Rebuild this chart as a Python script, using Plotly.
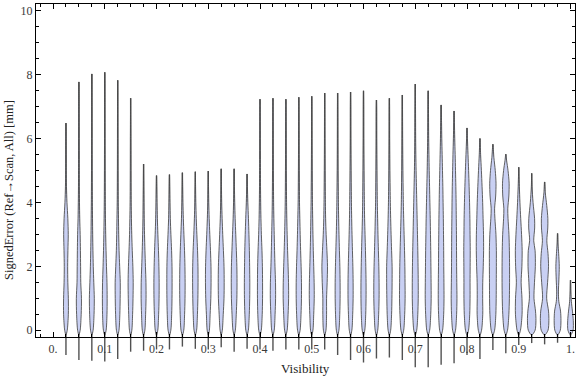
import plotly.graph_objects as go

# ---------------- data ----------------
visibility = [round(0.025 * k, 3) for k in range(1, 41)]

err_min = [-0.77, -0.93, -0.95, -0.98, -0.90, -0.67, -0.64, -0.60, -0.60, -0.51,
           -0.58, -0.60, -0.53, -0.67, -0.58, -0.60, -0.64, -0.60, -0.60, -0.60,
           -0.60, -0.77, -0.93, -1.01, -0.88, -0.85, -0.93, -1.16, -1.16, -1.08,
           -1.03, -0.77, -0.90, -0.62, -0.72, -0.46, -0.40, -0.44, -0.39, -0.20]

err_max = [6.48, 7.77, 8.02, 8.07, 7.82, 7.26, 5.20, 4.84, 4.87, 4.93,
           4.96, 4.98, 5.05, 5.05, 4.89, 7.23, 7.26, 7.23, 7.29, 7.32,
           7.42, 7.42, 7.45, 7.49, 7.20, 7.26, 7.36, 7.70, 7.49, 7.05,
           6.86, 6.33, 6.00, 5.82, 5.51, 5.10, 4.91, 4.64, 3.03, 1.57]

# density profiles: (error value, relative density) pairs per violin
density = [
    [(0, 1.5), (0.5, 2.8), (1, 2.8), (1.5, 2.2), (2, 2.0), (2.5, 2.3), (3, 2.7), (3.5, 2.2), (4, 1.2), (4.5, 0.6), (5, 0.3), (6, 0.15)],
    [(0, 1.5), (0.5, 2.7), (1, 3.0), (1.5, 2.2), (2, 2.0), (2.5, 1.8), (3, 1.5), (3.5, 1.0), (4, 0.7), (4.5, 0.5), (5, 0.4), (6, 0.3), (7, 0.2)],
    [(0, 1.5), (0.5, 2.6), (1, 2.9), (1.5, 2.3), (2, 1.7), (2.5, 1.3), (3, 1.0), (3.5, 0.8), (4, 0.6), (5, 0.4), (6, 0.3), (7, 0.2)],
    [(0, 1.6), (0.5, 2.6), (1, 2.8), (1.5, 2.6), (2, 2.0), (2.5, 1.5), (3, 1.1), (3.5, 0.8), (4, 0.6), (5, 0.4), (6, 0.3), (7, 0.2)],
    [(0, 1.5), (0.5, 2.5), (1, 2.9), (1.5, 3.0), (2, 2.3), (2.5, 1.6), (3, 1.2), (3.5, 0.9), (4, 0.6), (5, 0.4), (6, 0.3), (7, 0.2)],
    [(0, 1.4), (0.5, 2.3), (1, 2.8), (1.5, 3.0), (2, 2.6), (2.5, 1.9), (3, 1.3), (3.5, 0.9), (4, 0.6), (5, 0.4), (6, 0.3)],
    [(0, 1.5), (0.5, 2.4), (1, 2.9), (1.5, 2.8), (2, 2.2), (2.5, 1.6), (3, 1.1), (3.5, 0.7), (4, 0.5), (4.5, 0.3)],
    [(0, 1.5), (0.5, 2.5), (1, 3.0), (1.5, 3.1), (2, 2.8), (2.5, 2.3), (3, 1.6), (3.5, 1.0), (4, 0.6), (4.5, 0.3)],
    [(0, 1.6), (0.5, 2.6), (1, 3.0), (1.5, 3.1), (2, 3.0), (2.5, 2.5), (3, 1.7), (3.5, 1.0), (4, 0.6), (4.5, 0.3)],
    [(0, 1.6), (0.5, 2.6), (1, 3.1), (1.5, 3.2), (2, 3.0), (2.5, 2.5), (3, 1.8), (3.5, 1.1), (4, 0.6), (4.5, 0.3)],
    [(0, 1.5), (0.5, 2.5), (1, 3.0), (1.5, 3.2), (2, 3.1), (2.5, 2.6), (3, 1.8), (3.5, 1.1), (4, 0.6), (4.5, 0.3)],
    [(0, 1.3), (0.5, 2.2), (1, 3.0), (1.5, 3.3), (2, 3.2), (2.5, 2.6), (3, 1.8), (3.5, 1.1), (4, 0.6), (4.5, 0.3)],
    [(0, 1.3), (0.5, 2.4), (1, 3.3), (1.5, 3.5), (2, 3.3), (2.5, 2.6), (3, 1.8), (3.5, 1.1), (4, 0.6), (4.5, 0.3)],
    [(0, 1.4), (0.5, 2.5), (1, 3.2), (1.5, 3.4), (2, 3.2), (2.5, 2.6), (3, 1.9), (3.5, 1.2), (4, 0.7), (4.5, 0.3)],
    [(0, 1.5), (0.5, 2.6), (1, 3.1), (1.5, 3.2), (2, 3.0), (2.5, 2.7), (3, 2.2), (3.5, 1.6), (4, 0.9), (4.5, 0.4)],
    [(0, 1.5), (0.5, 2.6), (1, 3.0), (1.5, 3.0), (2, 2.8), (2.5, 2.3), (3, 1.6), (3.5, 1.1), (4, 0.8), (4.5, 0.6), (5, 0.5), (6, 0.3), (7, 0.2)],
    [(0, 1.5), (0.5, 2.5), (1, 3.1), (1.5, 3.0), (2, 2.4), (2.5, 1.9), (3, 1.5), (3.5, 1.1), (4, 0.8), (5, 0.5), (6, 0.3), (7, 0.2)],
    [(0, 1.5), (0.5, 2.6), (1, 3.2), (1.5, 3.1), (2, 2.6), (2.5, 2.0), (3, 1.5), (3.5, 1.1), (4, 0.8), (5, 0.5), (6, 0.3), (7, 0.2)],
    [(0, 1.5), (0.5, 2.6), (1, 3.1), (1.5, 3.1), (2, 2.7), (2.5, 2.1), (3, 1.6), (3.5, 1.2), (4, 0.8), (5, 0.5), (6, 0.3), (7, 0.2)],
    [(0, 1.4), (0.5, 2.3), (1, 2.9), (1.5, 2.8), (2, 2.3), (2.5, 1.8), (3, 1.4), (3.5, 1.1), (4, 0.8), (5, 0.5), (6, 0.3), (7, 0.2)],
    [(0, 1.5), (0.5, 2.2), (1, 2.2), (1.5, 2.9), (2, 3.3), (2.5, 2.6), (3, 1.7), (3.5, 1.1), (4, 0.8), (5, 0.5), (6, 0.3), (7, 0.2)],
    [(0, 1.5), (0.5, 2.5), (1, 2.9), (1.5, 2.9), (2, 2.6), (2.5, 2.1), (3, 1.6), (3.5, 1.2), (4, 0.9), (5, 0.5), (6, 0.3), (7, 0.2)],
    [(0, 1.5), (0.5, 2.5), (1, 3.0), (1.5, 3.0), (2, 2.7), (2.5, 2.2), (3, 1.7), (3.5, 1.3), (4, 1.0), (5, 0.6), (6, 0.3), (7, 0.2)],
    [(0, 1.5), (0.5, 2.6), (1, 3.0), (1.5, 3.0), (2, 2.7), (2.5, 2.3), (3, 1.8), (3.5, 1.3), (4, 1.0), (5, 0.6), (6, 0.3), (7, 0.2)],
    [(0, 1.5), (0.5, 2.6), (1, 3.1), (1.5, 3.1), (2, 2.8), (2.5, 2.3), (3, 1.8), (3.5, 1.4), (4, 1.0), (5, 0.6), (6, 0.3), (7, 0.2)],
    [(0, 1.5), (0.5, 2.6), (1, 3.0), (1.5, 3.2), (2, 3.2), (2.5, 2.6), (3, 2.0), (3.5, 1.5), (4, 1.1), (5, 0.6), (6, 0.3), (7, 0.2)],
    [(0, 1.6), (0.5, 2.8), (1, 3.3), (1.5, 3.2), (2, 3.0), (2.5, 2.6), (3, 2.1), (3.5, 1.6), (4, 1.2), (5, 0.7), (6, 0.4), (7, 0.2)],
    [(0, 1.7), (0.5, 3.0), (1, 3.5), (1.5, 3.5), (2, 3.3), (2.5, 3.0), (3, 2.6), (3.5, 2.2), (4, 1.8), (4.5, 1.4), (5, 1.0), (5.5, 0.7), (6, 0.5), (7, 0.3)],
    [(0, 1.7), (0.5, 3.0), (1, 3.5), (1.5, 3.4), (2, 3.2), (2.5, 3.0), (3, 2.7), (3.5, 2.4), (4, 2.0), (4.5, 1.6), (5, 1.2), (5.5, 0.9), (6, 0.6), (7, 0.3)],
    [(0, 1.7), (0.5, 3.0), (1, 3.4), (1.5, 3.3), (2, 3.1), (2.5, 3.0), (3, 2.8), (3.5, 2.6), (4, 2.3), (4.5, 2.0), (5, 1.6), (5.5, 1.2), (6, 0.8), (6.5, 0.5)],
    [(0, 1.7), (0.5, 3.0), (1, 3.4), (1.5, 3.2), (2, 3.0), (2.5, 2.9), (3, 2.8), (3.5, 2.6), (4, 2.4), (4.5, 2.1), (5, 1.7), (5.5, 1.3), (6, 0.8), (6.5, 0.4)],
    [(0, 1.8), (0.5, 3.2), (1, 3.6), (1.5, 3.6), (2, 3.7), (2.5, 3.8), (3, 3.6), (3.5, 3.4), (4, 3.0), (4.5, 2.5), (5, 1.9), (5.5, 1.2), (6, 0.5)],
    [(0, 1.9), (0.5, 3.3), (1, 3.2), (1.5, 3.3), (2, 3.9), (2.5, 4.3), (3, 4.2), (3.5, 3.7), (4, 3.2), (4.5, 2.5), (5, 1.7), (5.5, 0.8)],
    [(0, 2.0), (0.5, 3.5), (1, 3.9), (1.5, 4.0), (2, 4.1), (2.5, 4.1), (3, 3.6), (3.5, 2.4), (3.8, 2.0), (4.2, 3.3), (4.6, 3.7), (5, 2.8), (5.4, 1.2)],
    [(0, 2.0), (0.5, 3.6), (1, 4.2), (1.5, 4.4), (2, 4.4), (2.5, 4.2), (3, 3.7), (3.5, 2.6), (3.8, 2.3), (4.2, 3.6), (4.6, 3.9), (5, 2.6), (5.3, 1.0)],
    [(0, 2.0), (0.5, 3.9), (1, 3.8), (1.5, 2.8), (2, 3.7), (2.5, 4.0), (3, 3.3), (3.5, 2.3), (4, 1.4), (4.5, 0.7), (4.9, 0.2)],
    [(0, 4.0), (0.3, 5.0), (0.6, 4.5), (1, 2.7), (1.5, 3.3), (2, 4.3), (2.5, 4.0), (2.8, 2.4), (3.2, 3.5), (3.5, 3.4), (4, 1.6), (4.5, 0.4)],
    [(0, 4.0), (0.3, 5.0), (0.6, 4.6), (1, 2.4), (1.5, 3.5), (2, 4.6), (2.4, 4.0), (2.8, 2.6), (3.2, 3.7), (3.5, 3.8), (3.9, 2.5), (4.3, 0.8)],
    [(0, 3.2), (0.3, 4.0), (0.6, 3.5), (0.9, 1.5), (1.2, 1.0), (1.6, 1.6), (2, 2.0), (2.4, 1.3), (2.7, 0.5)],
    [(0, 3.0), (0.3, 3.3), (0.6, 2.3), (0.9, 1.0), (1.2, 0.4)],
]

x_tick_vals = [0, 0.1, 0.2, 0.3, 0.4, 0.5, 0.6, 0.7, 0.8, 0.9, 1.0]
x_tick_text = ["0.", "0.1", "0.2", "0.3", "0.4", "0.5", "0.6", "0.7", "0.8", "0.9", "1."]
y_tick_vals = [0, 2, 4, 6, 8, 10]
y_tick_text = ["0", "2", "4", "6", "8", "10"]

# ---------------- styling / geometry ----------------
W, H = 576, 377
M_L, M_R, M_T, M_B = 36, 1, 4, 7
X_RANGE = [-0.0329, 1.0087]
Y_RANGE = [-0.219, 10.206]          # framed axes
PX_PER_Y = 31.97
plot_h = H - M_T - M_B
y_dom_bottom = (plot_h - (Y_RANGE[1] - Y_RANGE[0]) * PX_PER_Y) / plot_h
Y_DATA_RANGE = [Y_RANGE[1] - plot_h / PX_PER_Y, Y_RANGE[1]]   # taller area so tails can go below the frame
WIDTH_SCALE = 0.85 * (X_RANGE[1] - X_RANGE[0]) / (W - M_L - M_R)   # density unit -> x units
BASE = -0.15

FILL = "rgb(201,208,243)"
EDGE = "rgba(70,70,70,0.85)"
STEM = "rgba(50,50,50,0.85)"
FONT = "Liberation Serif"

fig = go.Figure()

# stems (thin tails) first
for c, lo, hi in zip(visibility, err_min, err_max):
    fig.add_trace(go.Scatter(x=[c, c], y=[lo, hi], mode="lines",
                             line=dict(color=STEM, width=1.4),
                             hoverinfo="skip", showlegend=False))

# violin bodies
for c, hi, prof in zip(visibility, err_max, density):
    ys = [BASE] + [p[0] for p in prof] + [hi]
    ws = [0.0] + [p[1] for p in prof] + [0.0]
    left_x = [c - w * WIDTH_SCALE for w in ws]
    right_x = [c + w * WIDTH_SCALE for w in ws]
    xs = left_x + right_x[::-1][1:]
    yy = ys + ys[::-1][1:]
    fig.add_trace(go.Scatter(x=xs, y=yy, mode="lines", fill="toself",
                             fillcolor=FILL, line=dict(color=EDGE, width=1, shape="spline", smoothing=0.8),
                             hoverinfo="skip", showlegend=False))

# invisible helper trace so the framed axes are drawn
fig.add_trace(go.Scatter(x=[0.5], y=[5], mode="markers", marker=dict(opacity=0),
                         xaxis="x2", yaxis="y2", hoverinfo="skip", showlegend=False))

axis_common = dict(showgrid=False, zeroline=False, showline=True, linecolor="black",
                   linewidth=1, mirror="ticks", ticks="inside", tickcolor="black",
                   tickfont=dict(family=FONT, size=12, color="#3a3a3a"))

fig.update_layout(
    width=W, height=H,
    margin=dict(l=M_L, r=M_R, t=M_T, b=M_B, pad=0),
    paper_bgcolor="white", plot_bgcolor="rgba(0,0,0,0)",
    showlegend=False,
    xaxis=dict(range=X_RANGE, domain=[0, 1], anchor="y", visible=False),
    yaxis=dict(range=Y_DATA_RANGE, domain=[0, 1], anchor="x", visible=False),
    xaxis2=dict(range=X_RANGE, domain=[0, 1], anchor="y2",
                tickmode="array", tickvals=x_tick_vals, ticktext=x_tick_text, ticklen=5, tickwidth=1,
                minor=dict(dtick=0.025, tick0=0, ticklen=3, ticks="inside", tickcolor="black"),
                **axis_common),
    yaxis2=dict(range=Y_RANGE, domain=[y_dom_bottom, 1], anchor="x2",
                tickmode="array", tickvals=y_tick_vals, ticktext=y_tick_text, ticklen=5, tickwidth=1,
                minor=dict(dtick=0.5, tick0=0, ticklen=3, ticks="inside", tickcolor="black"),
                **axis_common),
    annotations=[
        dict(text="Visibility", xref="paper", yref="paper", x=0.5, y=0.005,
             xanchor="center", yanchor="middle", showarrow=False,
             font=dict(family=FONT, size=13, color="#222")),
        dict(text="SignedError (Ref→Scan, All) [mm]", xref="paper", yref="paper",
             x=0, xshift=-27, y=(H - M_B - 190) / plot_h, textangle=-90,
             xanchor="center", yanchor="middle", showarrow=False,
             font=dict(family=FONT, size=12.5, color="#222")),
    ],
)

fig.write_html("out.html", config={"displayModeBar": False},
               post_script="document.body.style.margin='0';")
